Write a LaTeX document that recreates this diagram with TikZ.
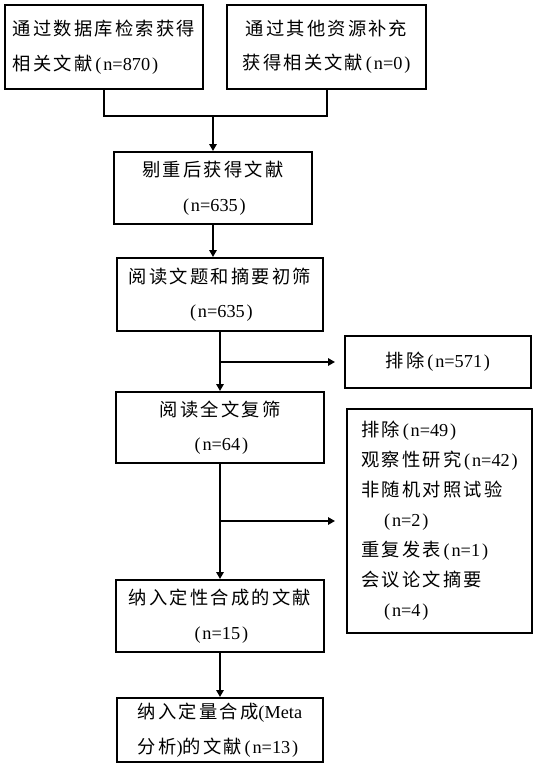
\documentclass[tikz,border=0pt]{standalone}
\usepackage{fontspec}
\setmainfont{Liberation Serif}
\newfontfamily\cjkfont[LetterSpace=12]{Noto Sans CJK SC}
\usetikzlibrary{arrows.meta,positioning}
\newcommand{\cnt}[1]{{\rmfamily\hspace{0.15em}(\hspace{0.1em}#1\hspace{0.1em})}}
\tikzset{
  recbox/.style={draw=black, line width=0.5mm, align=center, inner sep=0pt,
    font=\cjkfont\fontsize{13pt}{24.5pt}\selectfont},
  listbox/.style={recbox, align=left, font=\cjkfont\fontsize{13pt}{21.3pt}\selectfont},
  flow/.style={-{Triangle[length=1.7mm,width=1.8mm]}, line width=0.5mm},
  link/.style={line width=0.5mm}
}
\begin{document}
\begin{tikzpicture}[x=0.25mm, y=-0.25mm]
\useasboundingbox (0,0) rectangle (542,777);

\node[recbox, align=left, minimum width=49.5mm, minimum height=21mm] (db) at (104,47)
  {通过数据库检索获得\\相关文献\cnt{n=870}};
\node[recbox, minimum width=49.75mm, minimum height=21mm] (other) at (326.5,47)
  {通过其他资源补充\\获得相关文献\cnt{n=0}};
\node[recbox, minimum width=49.5mm, minimum height=18mm] (dedup) at (213,188)
  {剔重后获得文献\\\cnt{n=635}};
\node[recbox, minimum width=51.25mm, minimum height=18.25mm] (screen) at (220,294.5)
  {阅读文题和摘要初筛\\\cnt{n=635}};
\node[recbox, minimum width=46.5mm, minimum height=13mm] (excl1) at (438,362)
  {排除\cnt{n=571}};
\node[recbox, minimum width=51.75mm, minimum height=17.75mm] (full) at (220,427.5)
  {阅读全文复筛\\\cnt{n=64}};
\node[listbox, minimum width=46.25mm, minimum height=56mm] (excl2) at (439.5,521)
  {排除\cnt{n=49}\\观察性研究\cnt{n=42}\\非随机对照试验\\\hspace*{1.1em}\cnt{n=2}\\
   重复发表\cnt{n=1}\\会议论文摘要\\\hspace*{1.1em}\cnt{n=4}};
\node[recbox, minimum width=51.75mm, minimum height=18mm] (qual) at (220,616)
  {纳入定性合成的文献\\\cnt{n=15}};
\node[recbox, align=left, minimum width=51.25mm, minimum height=16mm] (quant) at (220,730)
  {纳入定量合成{\rmfamily(Meta}\\分析{\rmfamily)}的文献\cnt{n=13}};

% merge of the two sources
\coordinate (merge) at (213,116);
\draw[link] (db.south) |- (merge) -| (other.south);
\draw[flow] (merge) -- (dedup.north);
\draw[flow] (dedup.south) -- (dedup.south |- screen.north);
\draw[flow] (screen) -- (full);
\draw[flow] (full) -- (qual);
\draw[flow] (qual) -- (quant);

% exclusions
\coordinate (cut1) at (220,362);
\coordinate (cut2) at (220,521);
\draw[flow, shorten >=2.25mm] (cut1) -- (excl1.west);
\draw[flow, shorten >=2.75mm] (cut2) -- (excl2.west);
\end{tikzpicture}
\end{document}
